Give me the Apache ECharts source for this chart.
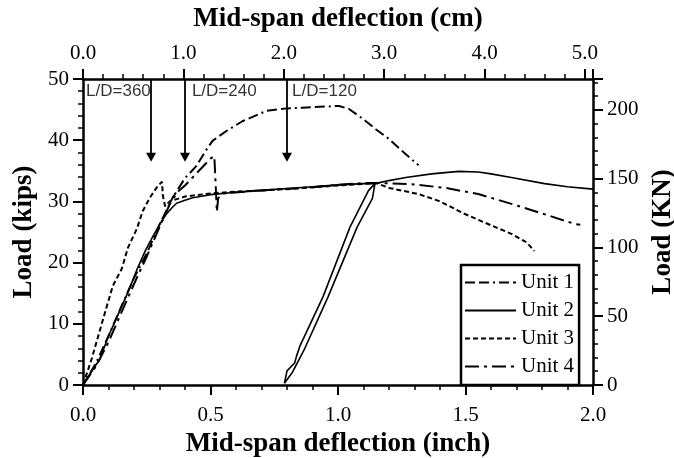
<!DOCTYPE html>
<html>
<head>
<meta charset="utf-8">
<script src="https://cdn.jsdelivr.net/npm/echarts@6/dist/echarts.min.js"></script>
<style>
  html, body { margin: 0; padding: 0; background: #fff; }
  #chart { width: 674px; height: 458px; }
</style>
</head>
<body>
<div id="chart"></div>
<script>
// load (kips) vs mid-span deflection (inch)
const unit1 = [
  [0, 0], [0.05, 3.5], [0.1, 8], [0.15, 12.8], [0.2, 17.5], [0.25, 21.5], [0.3, 26.2],
  [0.35, 30.5], [0.4, 33.8], [0.445, 35.8], [0.48, 38.2], [0.508, 39.9], [0.5625, 41.5],
  [0.625, 43.1], [0.72, 44.8], [0.8, 45.2], [0.86, 45.3], [0.95, 45.5], [1.004, 45.6],
  [1.043, 45.1], [1.094, 43.6], [1.148, 41.8], [1.2, 40.2], [1.266, 37.7], [1.316, 35.9]
];
const unit2 = [
  [0, 0], [0.03, 2], [0.066, 4.2], [0.1, 8], [0.145, 12.2], [0.18, 15.5], [0.211, 18.8],
  [0.245, 22], [0.273, 24.2], [0.3, 26.2], [0.328, 28], [0.35, 29], [0.367, 29.7],
  [0.4, 30.2], [0.43, 30.6], [0.5, 31.1], [0.6, 31.5], [0.7, 31.8], [0.8, 32.1],
  [0.9, 32.4], [1.0, 32.7], [1.1, 32.9], [1.145, 32.9],
  // unload / reload loop
  [1.135, 30.5], [1.075, 25.8], [0.961, 14.4], [0.87, 6], [0.82, 2], [0.79, 0.3],
  [0.80, 2.3], [0.83, 3.6], [0.838, 4.8], [0.85, 6.3], [0.941, 14.4], [1.047, 25.8],
  [1.12, 31.8], [1.145, 32.9],
  [1.2, 33.4], [1.266, 33.9], [1.367, 34.5], [1.473, 34.9], [1.55, 34.8], [1.6, 34.5],
  [1.68, 33.9], [1.81, 32.9], [1.9, 32.4], [2.0, 32.0]
];
const unit3 = [
  [0, 0], [0.035, 4.4], [0.086, 11.8], [0.117, 16.2], [0.152, 19], [0.176, 22.4],
  [0.211, 25.5], [0.234, 28.4], [0.262, 30.6], [0.293, 32.5], [0.31, 33.2], [0.313, 31],
  [0.322, 29.2], [0.34, 30], [0.4, 30.8], [0.5, 31.3], [0.6, 31.6], [0.8, 32.0],
  [1.0, 32.6], [1.15, 33.0], [1.2, 32.2], [1.316, 31.2], [1.4, 30.0], [1.5, 27.9],
  [1.6, 26.1], [1.68, 24.7], [1.74, 23.3], [1.77, 21.9]
];
const unit4 = [
  [0, 0], [0.05, 3], [0.1, 7], [0.15, 11.8], [0.2, 16.5], [0.25, 21], [0.3, 25.8],
  [0.34, 29.5], [0.37, 31.5], [0.4, 32.6], [0.45, 34.8], [0.5, 37.0], [0.515, 37.4],
  [0.52, 33], [0.525, 28.3], [0.53, 30.5], [0.55, 31.3], [0.7, 31.8], [0.9, 32.3],
  [1.0, 32.7], [1.1, 33.0], [1.17, 33.0], [1.289, 32.8], [1.422, 32.2], [1.55, 31.2],
  [1.68, 29.6], [1.81, 27.9], [1.93, 26.3], [1.95, 26.2]
];
const unitNames = ['Unit 1', 'Unit 2', 'Unit 3', 'Unit 4'];

// serviceability limits L/D
const ldDeflection = [0.267, 0.4, 0.8];
const ldText = ['L/D=360', 'L/D=240', 'L/D=120'];
const ldTextX = [0.012, 0.427, 0.82];
const ldTextY = 48.0;
const arrowTip = 37.2;

const KIPS_TO_KN = 4.448;
const IN_TO_CM = 2.54;

const serif = 'Liberation Serif';
const black = '#000';

function axisBase() {
  return {
    axisLine: { show: true, onZero: false, lineStyle: { color: black, width: 2.5 } },
    axisTick: { show: true, inside: false, length: 10, lineStyle: { color: black, width: 2 } },
    minorTick: { show: true, splitNumber: 5, length: 5, lineStyle: { color: black, width: 1.5 } },
    splitLine: { show: false },
    minorSplitLine: { show: false },
    axisLabel: { color: black, fontFamily: serif, fontSize: 21 },
    nameTextStyle: { color: black, fontFamily: serif, fontWeight: 'bold', fontSize: 27 }
  };
}

const chart = echarts.init(document.getElementById('chart'), null, { renderer: 'canvas' });

const xBottom = Object.assign(axisBase(), {
  type: 'value', position: 'bottom', min: 0, max: 2, interval: 0.5,
  name: 'Mid-span deflection (inch)', nameLocation: 'middle', nameGap: 42
});
xBottom.axisLabel.margin = 20;
xBottom.axisLabel.formatter = v => v.toFixed(1);

const xTop = Object.assign(axisBase(), {
  type: 'value', position: 'top', min: 0, max: 2 * IN_TO_CM, interval: 1,
  name: 'Mid-span deflection (cm)', nameLocation: 'middle', nameGap: 46
});
xTop.axisLabel.margin = 15;
xTop.axisLabel.formatter = v => (Math.abs(v - Math.round(v)) < 1e-6 ? v.toFixed(1) : '');

const yLeft = Object.assign(axisBase(), {
  type: 'value', position: 'left', min: 0, max: 50, interval: 10,
  name: 'Load (kips)', nameLocation: 'middle', nameGap: 42, nameRotate: 90
});
yLeft.axisLabel.margin = 14;

const yRight = Object.assign(axisBase(), {
  type: 'value', position: 'right', min: 0, max: 50 * KIPS_TO_KN, interval: 50,
  name: 'Load (KN)', nameLocation: 'middle', nameGap: 55, nameRotate: 90
});
yRight.axisLabel.margin = 14;
yRight.axisLabel.formatter = v => (v % 50 === 0 ? String(v) : '');

const dashes = [[10, 4, 10, 4, 2, 4], 'solid', [5, 3], [14, 5, 3, 5]];
const widths = [2, 1.6, 2, 2];
const units = [unit1, unit2, unit3, unit4];

const series = units.map((d, i) => ({
  name: unitNames[i],
  type: 'line',
  data: d,
  symbol: 'none',
  showSymbol: false,
  smooth: false,
  animation: false,
  xAxisIndex: 0,
  yAxisIndex: 0,
  lineStyle: { color: black, width: widths[i], type: dashes[i] },
  itemStyle: { color: black },
  z: 3
}));

series.push({
  name: 'arrows',
  type: 'line',
  data: [],
  xAxisIndex: 0,
  yAxisIndex: 0,
  animation: false,
  markLine: {
    silent: true,
    animation: false,
    symbol: ['none', 'triangle'],
    symbolSize: [10, 9],
    label: { show: false },
    lineStyle: { color: black, width: 1.8, type: 'solid' },
    data: ldDeflection.map(x => [{ coord: [x, 50] }, { coord: [x, arrowTip] }])
  }
});

series.push({
  name: 'ldLabels',
  type: 'scatter',
  xAxisIndex: 0,
  yAxisIndex: 0,
  symbolSize: 0,
  animation: false,
  silent: true,
  data: ldTextX.map((x, i) => [x, ldTextY, i]),
  label: {
    show: true,
    position: 'right',
    distance: 0,
    color: black,
    fontFamily: 'Liberation Sans',
    fontSize: 17,
    formatter: p => ldText[p.dataIndex]
  }
});

chart.setOption({
  backgroundColor: '#fff',
  animation: false,
  grid: { left: 83, top: 79, width: 510, height: 306, containLabel: false, outerBoundsMode: 'none' },
  xAxis: [xBottom, xTop],
  yAxis: [yLeft, yRight],
  legend: {
    data: unitNames,
    orient: 'vertical',
    left: 461,
    top: 265,
    padding: [7, 5, 8, 3],
    itemGap: 7,
    itemWidth: 51,
    itemHeight: 14,
    borderColor: black,
    borderWidth: 2.5,
    backgroundColor: '#fff',
    selectedMode: false,
    itemStyle: { opacity: 0 },
    lineStyle: { width: 2 },
    textStyle: { color: black, fontFamily: serif, fontSize: 21, lineHeight: 19 }
  },
  series: series
});
</script>
</body>
</html>
